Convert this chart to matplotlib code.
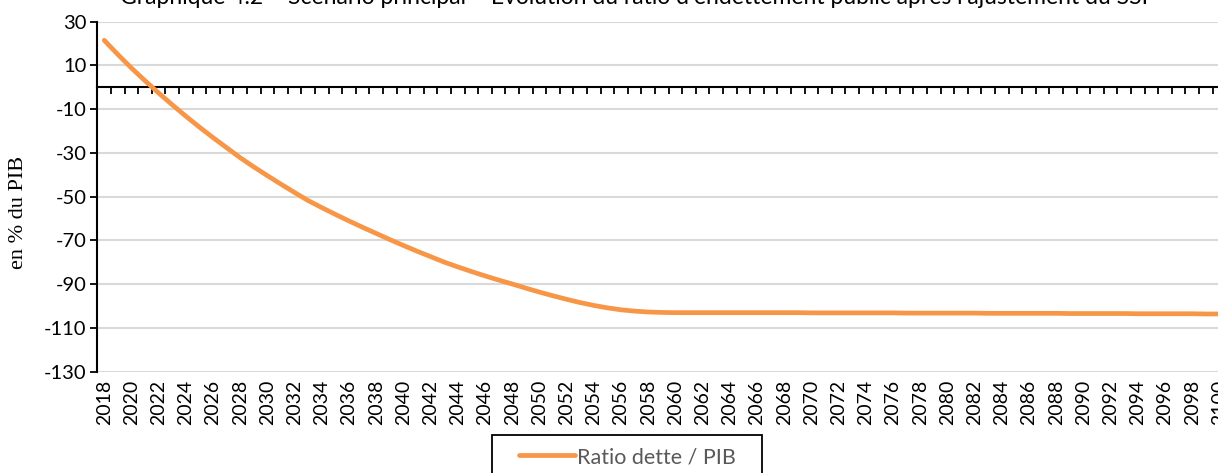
import matplotlib
matplotlib.use("Agg")
import matplotlib.pyplot as plt
from matplotlib.patches import Rectangle

# data (% of GDP)
years = list(range(2018, 2101))
ratio_dette_pib = [
    21.5, 15.0, 8.8, 3.0, -2.6, -8.0, -13.2, -18.2, -23.0, -27.6,
    -32.2, -36.4, -40.4, -44.3, -48.1, -51.8, -55.0, -58.1, -61.1, -64.0,
    -66.8, -69.6, -72.3, -74.9, -77.4, -79.9, -82.1, -84.2, -86.2, -88.1,
    -89.9, -91.8, -93.6, -95.3, -96.9, -98.4, -99.7, -100.8, -101.7, -102.3,
    -102.7, -102.9, -103.0, -103.0, -103.0, -103.0, -103.0, -103.0, -103.0, -103.0,
    -103.0, -103.0, -103.1, -103.1, -103.1, -103.1, -103.1, -103.1, -103.1, -103.2,
    -103.2, -103.2, -103.2, -103.2, -103.2, -103.3, -103.3, -103.3, -103.3, -103.3,
    -103.3, -103.4, -103.4, -103.4, -103.4, -103.4, -103.5, -103.5, -103.5, -103.5,
    -103.5, -103.6, -103.6,
]
y_ticks = [30, 10, -10, -30, -50, -70, -90, -110, -130]
x_label_years = list(range(2018, 2101, 2))

title = ("Graphique 4.2 \u2013 Sc\u00e9nario principal \u2013 \u00c9volution du ratio "
         "d\u2019endettement public apr\u00e8s l\u2019ajustement du SSF")

orange = "#F79646"
grid_grey = "#D9D9D9"
font = "Lato"
W, H = 1218, 473

fig = plt.figure(figsize=(W / 100, H / 100), dpi=100)
ax = fig.add_axes([0.0800, 0.2141, 0.9268, 0.7401])

ax.plot(years, ratio_dette_pib, color=orange, lw=3.4, solid_capstyle="round",
        label="Ratio dette / PIB", zorder=3)

ax.set_xlim(2017.5, 2100.5)
ax.set_ylim(-130, 30)
ax.set_yticks(y_ticks)
ax.set_yticklabels([str(v) for v in y_ticks], fontfamily=font, fontsize=14.5)
ax.yaxis.grid(True, color=grid_grey, lw=1.5)
ax.set_axisbelow(True)
ax.tick_params(axis="y", direction="out", length=5, width=1.3, pad=3)

ax.set_xticks(x_label_years)
ax.set_xticklabels([str(y) for y in x_label_years], rotation=90,
                   fontfamily=font, fontsize=14)
ax.tick_params(axis="x", length=0, pad=6)

for side in ["top", "right", "bottom"]:
    ax.spines[side].set_visible(False)
ax.spines["left"].set_linewidth(1.5)

# category axis crossing at zero, with ticks between categories
zero = ax.secondary_xaxis(130 / 160)
zero.set_xticks([y - 0.5 for y in range(2018, 2102)])
zero.tick_params(direction="in", length=5, width=1.3,
                 labeltop=False, labelbottom=False)
zero.spines["top"].set_linewidth(1.5)
zero.spines["bottom"].set_linewidth(1.5)

fig.text(19 / W, 1 - 212 / H, "en % du PIB", rotation=90, ha="center", va="center",
         fontfamily="Liberation Serif", fontsize=16)

fig.text(637 / W, 1 - 4.5 / H, title, ha="center", va="baseline",
         fontfamily=font, fontsize=16.5)

# legend box (bottom runs past the figure edge, as in the reference)
fig.patches.append(Rectangle((492 / W, 1 - 480 / H), 270 / W, 45 / H,
                             transform=fig.transFigure, facecolor="white",
                             edgecolor="black", lw=1.3))
fig.legend(loc="center left", bbox_to_anchor=(519 / W, 1 - 457 / H),
           prop={"family": font, "size": 15.5}, labelcolor="#595959",
           frameon=False, handlelength=2.6, handletextpad=0.1,
           borderpad=0, borderaxespad=0)

fig.savefig("out.png", dpi=100)
